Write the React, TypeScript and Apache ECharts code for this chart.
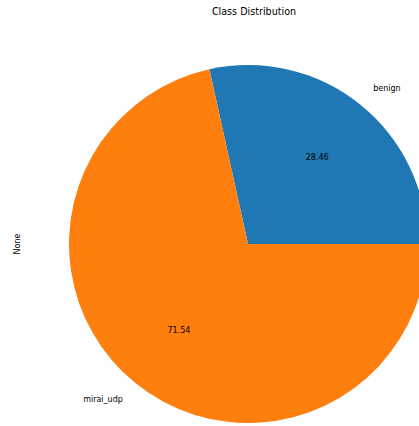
import React, { useEffect, useRef } from "react";
import * as echarts from "echarts";

const TITLE = "Class Distribution";
const Y_LABEL = "None";
const categories = ["benign", "mirai_udp"];
const shares = [28.46, 71.54];
const colors = ["#1f77b4", "#ff7f0e"];

const FONT = "DejaVu Sans";
const LABEL_SIZE = 8;

function measure(text: string, size: number): number {
  const c = document.createElement("canvas").getContext("2d");
  if (!c) return text.length * size * 0.55;
  c.font = `${size}px "${FONT}"`;
  return c.measureText(text).width;
}

export default function App() {
  const ref = useRef<HTMLDivElement>(null);
  useEffect(() => {
    if (!ref.current) return;
    const chart = echarts.init(ref.current, undefined, { renderer: "svg" });
    const cx = 248;
    const cy = 244;
    const r = 179;
    const total = shares.reduce((a, b) => a + b, 0);
    let cum = 0;
    const outerData = categories.map((name, i) => {
      const mid = ((cum + shares[i] / 2) / total) * 2 * Math.PI;
      cum += shares[i];
      const w = measure(name, LABEL_SIZE);
      const pad = Math.cos(mid) >= 0 ? [0, 0, 0, w] : [0, w, 0, 0];
      return { name, value: shares[i], label: { padding: pad } };
    });
    const baseData = categories.map((name, i) => ({
      name,
      value: shares[i],
      itemStyle: { color: colors[i] },
    }));
    const clear = { color: "rgba(0,0,0,0)" };
    chart.setOption({
      animation: false,
      backgroundColor: "#fff",
      title: {
        text: TITLE,
        left: 249,
        top: 1,
        textAlign: "center",
        textStyle: { fontFamily: FONT, fontSize: 9.6, fontWeight: "normal", color: "#000" },
      },
      graphic: [
        {
          type: "text",
          x: 17,
          y: 244,
          rotation: Math.PI / 2,
          style: {
            text: Y_LABEL,
            fontFamily: FONT,
            fontSize: LABEL_SIZE,
            fill: "#000",
            align: "center",
            verticalAlign: "middle",
          },
        },
      ],
      series: [
        {
          type: "pie",
          center: [cx, cy],
          radius: [0, r],
          startAngle: 0,
          clockwise: false,
          silent: true,
          label: { show: false },
          labelLine: { show: false },
          emphasis: { disabled: true },
          data: baseData,
        },
        {
          type: "pie",
          center: [cx, cy],
          radius: [r * 0.5, r * 0.7],
          startAngle: 0,
          clockwise: false,
          silent: true,
          itemStyle: clear,
          emphasis: { disabled: true },
          labelLine: { show: false },
          label: {
            show: true,
            position: "inside",
            formatter: "{d}",
            fontFamily: FONT,
            fontSize: LABEL_SIZE,
            color: "#000",
          },
          data: categories.map((name, i) => ({ name, value: shares[i] })),
        },
        {
          type: "pie",
          center: [cx, cy],
          radius: [r * 1.05, r * 1.15],
          startAngle: 0,
          clockwise: false,
          silent: true,
          itemStyle: clear,
          emphasis: { disabled: true },
          labelLine: { show: false },
          label: {
            show: true,
            position: "inside",
            formatter: "{b}",
            fontFamily: FONT,
            fontSize: LABEL_SIZE,
            color: "#000",
          },
          data: outerData,
        },
      ],
    });
    return () => chart.dispose();
  }, []);
  return (
    <div
      ref={ref}
      style={{ position: "fixed", left: 0, top: 0, width: 419, height: 426 }}
    />
  );
}
